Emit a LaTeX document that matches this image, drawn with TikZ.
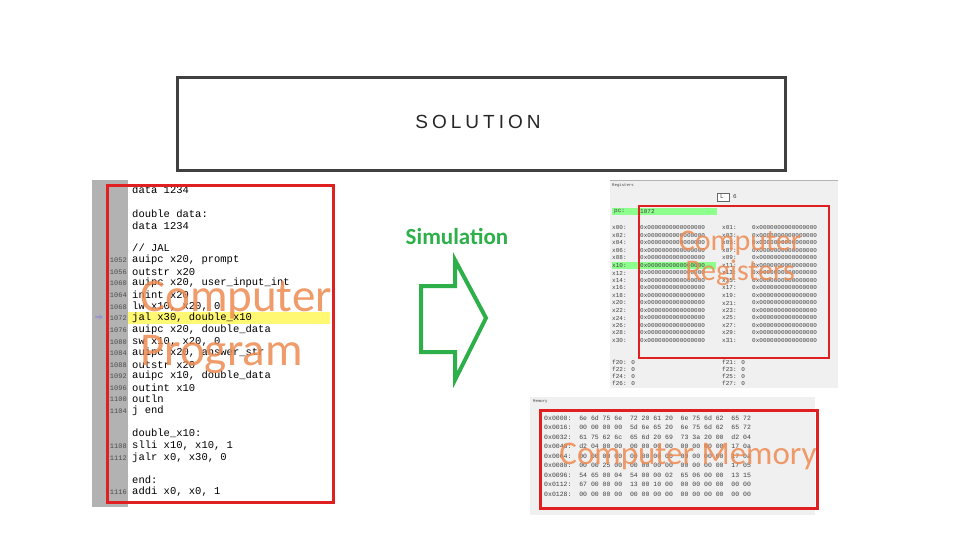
\documentclass[tikz,border=0pt]{standalone}
\usepackage{fontspec}
\setmainfont{Liberation Sans}
\newfontfamily\codefont{Liberation Mono}
\newfontfamily\calib{Carlito}
\definecolor{redbox}{HTML}{E02020}
\definecolor{overlay}{HTML}{EE8A50}
\definecolor{simgreen}{HTML}{2DB04A}
\definecolor{panelgray}{HTML}{F0F0F0}
\newcommand\cmtslash{/\kern0pt/}
\tikzset{
  redframe/.style={draw=redbox,line width=3pt},
  codeline/.style={anchor=west,font=\codefont\fontsize{10.5}{11}\selectfont,inner sep=0pt},
  lineno/.style={anchor=east,font=\codefont\fontsize{7}{8}\selectfont,text=black!70,inner sep=0pt},
  overtext/.style={text=overlay,opacity=0.85,font=\calib\fontsize{47}{49}\selectfont,inner sep=0pt},
  tiny/.style={anchor=west,font=\codefont\fontsize{6}{7}\selectfont,text=black!75,inner sep=0pt},
}
\begin{document}
\begin{tikzpicture}[x=1pt,y=-1pt]
\useasboundingbox (0,0) rectangle (960,540);
\fill[white] (0,0) rectangle (960,540);
% title
\node[draw=black!75,line width=3pt,minimum width=608pt,minimum height=93pt,anchor=north west] (title) at (176,76) {};
\node[font=\fontsize{19}{20}\selectfont,text=black!85] (ttext) at (478,122) {S\kern4pt O\kern4pt L\kern4pt U\kern4pt T\kern4pt I\kern4pt O\kern4pt N};
% code panel
\fill[black!30] (92,180) rectangle (128,507);
\fill[white] (128,180) rectangle (336,507);
\fill[yellow!55] (128,312) rectangle (330,324);
\node[text=blue!60,font=\fontsize{8}{8}\selectfont] (cursor) at (99,318) {$\Rightarrow$};
\node[codeline] (cmt) at (132,248) {\cmtslash{} JAL};
\foreach \y/\n/\t in {190//data 1234, 214//double data:, 226//data 1234,
 260/1052/auipc x20{,} prompt, 272/1056/outstr x20, 283/1060/auipc x20{,} user\_input\_int,
 295/1064/inint x20, 307/1068/lw x10{,} x20{,} 0, 318/1072/jal x30{,} double\_x10,
 330/1076/auipc x20{,} double\_data, 342/1080/sw x10{,} x20{,} 0, 353/1084/auipc x20{,} answer\_str,
 365/1088/outstr x20, 376/1092/auipc x10{,} double\_data, 388/1096/outint x10, 399/1100/outln,
 411/1104/j end, 433//double\_x10:, 446/1108/slli x10{,} x10{,} 1, 458/1112/jalr x0{,} x30{,} 0,
 480//end:, 492/1116/addi x0{,} x0{,} 1}
{ \node[codeline] at (132,\y) {\t}; \node[lineno] at (127,\y) {\n}; }
\node[redframe,minimum width=226pt,minimum height=317pt,anchor=north west] (prog) at (106,184) {};
\node[overtext,anchor=west] (c1) at (140,300) {Computer};
\node[overtext,anchor=west] (c2) at (140,354) {Program};
% simulation
\fill[white] (390,218) rectangle (520,390);
\node[text=simgreen,font=\calib\bfseries\fontsize{23}{24}\selectfont] (sim) at (457,236) {Simulation};
\draw[simgreen,line width=4pt,fill=white,line join=miter] (421,286) -- (455,286) -- (455,260) -- (486,318) -- (455,380) -- (455,352) -- (421,352) -- cycle;
% registers
\fill[panelgray] (610,180) rectangle (838,388);
\draw[black!30] (610,180) -- (838,180);
\node[tiny,font=\codefont\fontsize{4}{5}\selectfont] at (612,185) {Registers};
\draw[black!60,fill=white] (717,193) rectangle (729,201);
\node[tiny] at (720,197) {L};
\node[tiny] at (733,197) {6};
\fill[green!45] (612,208) rectangle (717,215);
\node[tiny] at (614,211.5) {pc:};
\node[tiny] at (640,211.5) {1072};
\fill[green!45] (612,262) rectangle (716,269);
\foreach \i in {0,...,15}{
  \pgfmathtruncatemacro\a{2*\i}\pgfmathtruncatemacro\b{2*\i+1}
  \pgfmathsetmacro\yy{228+7.5*\i}
  \node[tiny] at (612,\yy) {x\ifnum\a<10 0\fi\a:};
  \node[tiny] at (640,\yy) {0x0000000000000000};
  \node[tiny] at (722,\yy) {x\ifnum\b<10 0\fi\b:};
  \node[tiny] at (752,\yy) {0x0000000000000000};
}
\foreach \i/\u/\v in {0/f20/f21,1/f22/f23,2/f24/f25,3/f26/f27}{
  \pgfmathsetmacro\yy{362+7*\i}
  \node[tiny] at (612,\yy) {\u: 0};
  \node[tiny] at (722,\yy) {\v: 0};
}
\node[draw=redbox,line width=2pt,minimum width=190pt,minimum height=152pt,anchor=north west] (regs) at (638,205) {};
\node[overtext,font=\calib\fontsize{30}{32}\selectfont] (r1) at (740,243) {Computer};
\node[overtext,font=\calib\fontsize{30}{32}\selectfont] (r2) at (740,273) {Registers};
% memory
\fill[panelgray] (530,397) rectangle (815,515);
\node[tiny,font=\codefont\fontsize{4}{5}\selectfont] at (533,402) {Memory};
\foreach \i/\ad/\r in {0/0000/6e 6d 75 6e~~72 20 61 20~~6e 75 6d 62~~65 72,
 1/0016/00 00 00 00~~5d 6e 65 20~~6e 75 6d 62~~65 72,
 2/0032/61 75 62 6c~~65 6d 20 69~~73 3a 20 00~~d2 04,
 3/0048/d2 04 00 00~~00 00 00 00~~00 00 00 00~~17 0a,
 4/0064/00 00 00 00~~00 00 00 00~~00 00 00 00~~17 0a,
 5/0080/00 00 25 00~~00 00 00 00~~00 00 00 00~~17 05,
 6/0096/54 65 00 04~~54 00 00 02~~65 06 00 00~~13 15,
 7/0112/67 00 00 00~~13 00 10 00~~00 00 00 00~~00 00,
 8/0128/00 00 00 00~~00 00 00 00~~00 00 00 00~~00 00}
{ \pgfmathsetmacro\yy{418+9.5*\i}
  \node[tiny,font=\codefont\fontsize{6.5}{7}\selectfont] at (544,\yy) {0x\ad:~~\r}; }
\node[draw=redbox,line width=3pt,minimum width=277pt,minimum height=98pt,anchor=north west] (mem) at (539,409) {};
\node[overtext,font=\calib\fontsize{33}{35}\selectfont] (m1) at (688,456) {Computer Memory};
\end{tikzpicture}
\end{document}
